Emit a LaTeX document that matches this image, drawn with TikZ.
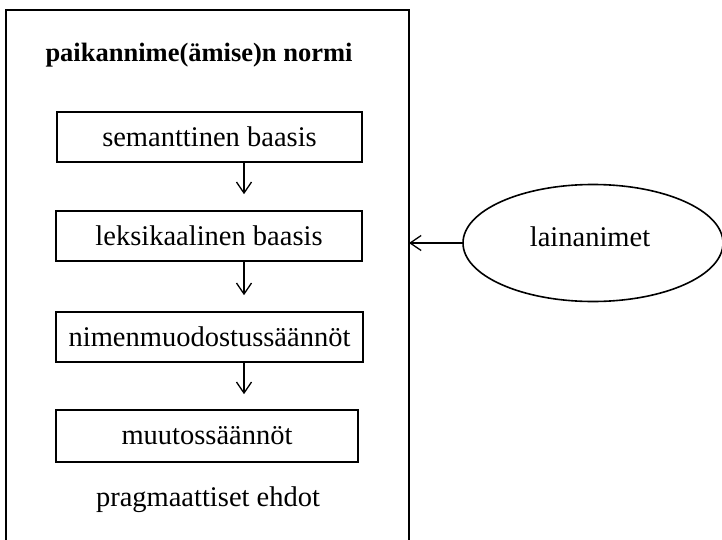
\documentclass[tikz,border=0pt]{standalone}
\usepackage{fontspec}
\setmainfont{Liberation Serif}
\usetikzlibrary{arrows.meta,shapes.geometric}

\tikzset{
  box/.style={draw,line width=1.6pt,minimum height=50pt,inner sep=0pt},
  arr/.style={line width=1.3pt,-{Straight Barb[length=11pt,width=15pt,line width=1.3pt]}}
}

\begin{document}
\begin{tikzpicture}[x=1pt,y=-1pt,font=\fontsize{28.5}{32}\selectfont]
  \useasboundingbox (0,0) rectangle (722,540);
  \draw[line width=1.6pt] (6,10) rectangle (409,560);
  \coordinate (fr) at (409,10);

  \node[font=\fontsize{26.5}{30}\selectfont\bfseries] (title) at (199,55) {paikannime(ämise)n normi};
  \node[box,minimum width=305pt] (sem) at (209.5,137) {semanttinen baasis};
  \node[box,minimum width=306pt] (lek) at (209,236) {leksikaalinen baasis};
  \node[box,minimum width=307pt] (nim) at (209.5,337) {nimenmuodostussäännöt};
  \node[box,minimum width=302pt,minimum height=52pt] (muu) at (207,436) {muutossäännöt};
  \node (prag) at (208,500) {pragmaattiset ehdot};

  \node[draw,ellipse,line width=1.6pt,minimum width=260pt,minimum height=117pt,inner sep=0pt] (lain) at (593,243) {};
  \node (laint) at (590,237) {lainanimet};

  \coordinate (ax) at (244,0);
  \draw[arr,shorten >=16pt] (sem.south -| ax) -- (lek.north -| ax);
  \draw[arr,shorten >=16pt] (lek.south -| ax) -- (nim.north -| ax);
  \draw[arr,shorten >=15pt] (nim.south -| ax) -- (muu.north -| ax);
  \draw[arr] (lain.west) -- (lain.west -| fr);
\end{tikzpicture}
\end{document}
